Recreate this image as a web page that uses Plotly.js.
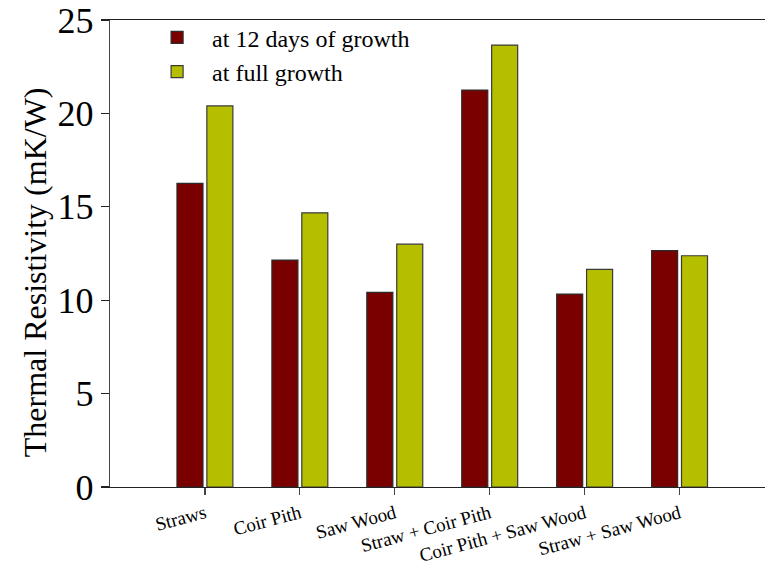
<!DOCTYPE html>
<html>
<head>
<meta charset="utf-8">
<script src="https://cdn.plot.ly/plotly-3.0.1.min.js"></script>
<style>html,body{margin:0;padding:0;background:#fff;}#chart{width:770px;height:568px;}</style>
</head>
<body>
<div id="chart"></div>
<script>
var categories = ["Straws", "Coir Pith", "Saw Wood", "Straw + Coir Pith", "Coir Pith + Saw Wood", "Straw + Saw Wood"];
var at12Days = [16.25, 12.15, 10.42, 21.25, 10.33, 12.65];
var atFullGrowth = [20.4, 14.68, 13.0, 23.66, 11.65, 12.38];
var seriesNames = ["at 12 days of growth", "at full growth"];
var yTicks = [0, 5, 10, 15, 20, 25];
var yTitle = "Thermal Resistivity (mK/W)";

var serif = "'Liberation Serif', 'Times New Roman', serif";
var idx = categories.map(function(_, i){ return i; });

var traces = [
  {type: "bar", name: seriesNames[0], x: idx, y: at12Days,
   marker: {color: "#7a0000", line: {color: "#2b2b2b", width: 1.2}}},
  {type: "bar", name: seriesNames[1], x: idx, y: atFullGrowth,
   marker: {color: "#b5bf00", line: {color: "#3a3a3a", width: 1.2}}}
];

var layout = {
  width: 770, height: 568,
  margin: {l: 110, r: 5, t: 20, b: 81},
  paper_bgcolor: "#fff", plot_bgcolor: "#fff",
  barmode: "group", bargap: 0.37, bargroupgap: 0.13,
  showlegend: true,
  legend: {x: 0.049, y: 1.01, xanchor: "left", yanchor: "top",
           font: {family: serif, size: 24, color: "#000"},
           bgcolor: "rgba(0,0,0,0)", itemwidth: 60, tracegroupgap: 0},
  xaxis: {
    range: [-1, 5.9], tickmode: "array", tickvals: idx, ticktext: categories,
    tickangle: -15, ticks: "outside", ticklen: 7, tickwidth: 1.2, tickcolor: "#444",
    showline: true, linecolor: "#222", linewidth: 1.2, mirror: true,
    showgrid: false, zeroline: false,
    tickfont: {family: serif, size: 19, color: "#000"}
  },
  yaxis: {
    range: [0, 25], tickmode: "array", tickvals: yTicks,
    ticks: "outside", ticklen: 8, tickwidth: 1.2, tickcolor: "#222",
    showline: true, linecolor: "#444", linewidth: 1.2,
    showgrid: false, zeroline: false,
    tickfont: {family: serif, size: 36, color: "#000"}
  },
  annotations: [{
    text: yTitle, xref: "paper", yref: "paper", x: -0.1145, y: 0.46,
    xanchor: "center", yanchor: "middle", textangle: -90, showarrow: false,
    font: {family: serif, size: 32, color: "#000"}
  }]
};

Plotly.newPlot("chart", traces, layout, {displayModeBar: false, staticPlot: true});
</script>
</body>
</html>
